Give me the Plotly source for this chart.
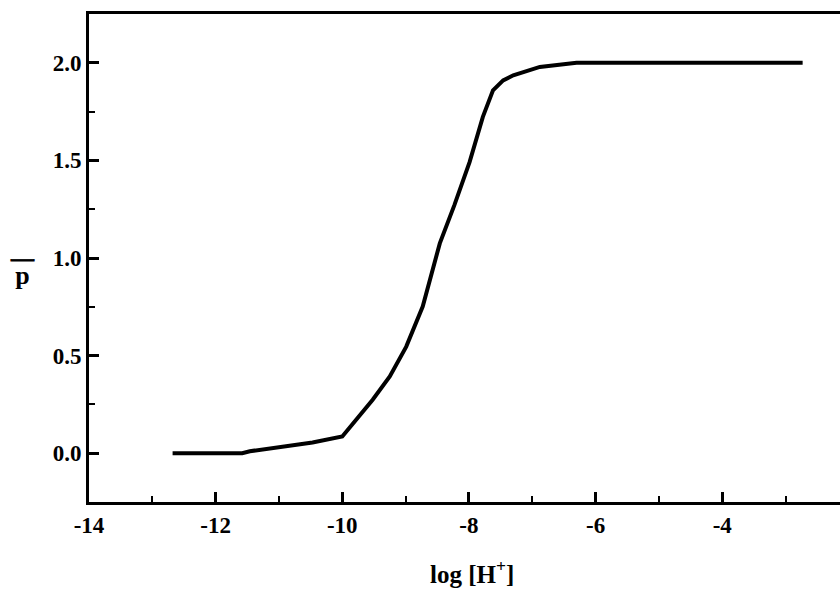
import plotly.graph_objects as go

# curve
log_h = [-12.68, -11.58, -11.46, -10.96, -10.47, -10.0, -9.78, -9.52, -9.25, -8.99,
         -8.73, -8.46, -8.23, -7.99, -7.78, -7.62, -7.46, -7.30, -6.88, -6.46,
         -6.30, -2.73]
p_bar = [0.0, 0.0, 0.01, 0.035, 0.055, 0.086, 0.171, 0.274, 0.393, 0.546,
         0.751, 1.075, 1.271, 1.491, 1.723, 1.859, 1.910, 1.936, 1.979, 1.996,
         2.0, 2.0]

x_tickvals = [-14, -12, -10, -8, -6, -4]
x_ticktext = ["-14", "-12", "-10", "-8", "-6", "-4"]
y_tickvals = [0.0, 0.5, 1.0, 1.5, 2.0]
y_ticktext = ["0.0", "0.5", "1.0", "1.5", "2.0"]

FONT = "Liberation Serif"

fig = go.Figure()
fig.add_trace(go.Scatter(x=log_h, y=p_bar, mode="lines",
                         line=dict(color="black", width=4),
                         showlegend=False, hoverinfo="skip"))

axis_common = dict(showline=True, linecolor="black", linewidth=3,
                   ticks="inside", ticklen=10, tickwidth=3, tickcolor="black",
                   showgrid=False, zeroline=False,
                   tickfont=dict(family=FONT, size=23, color="black", weight="bold"))

fig.update_xaxes(range=[-14, -2.14], tickvals=x_tickvals, ticktext=x_ticktext,
                 mirror=True,
                 minor=dict(ticks="inside", dtick=1, tick0=-14, ticklen=6, tickwidth=2, tickcolor="black"),
                 **axis_common)
fig.update_yaxes(range=[-0.25, 2.25], tickvals=y_tickvals, ticktext=y_ticktext,
                 mirror=False,
                 minor=dict(ticks="inside", dtick=0.25, tick0=0, ticklen=6, tickwidth=2, tickcolor="black"),
                 **axis_common)

fig.add_annotation(text="<b>log [H<sup>+</sup>]</b>", xref="x", yref="paper",
                   x=-7.95, y=-0.143, xanchor="center", yanchor="middle",
                   showarrow=False, font=dict(family=FONT, size=25, color="black"))
# p with a bar above it (single text: bar line, then p)
fig.add_annotation(text="<b><span style=\"font-size:23px;stroke:black;stroke-width:0.8px\">\u2014</span><br>"
                        "<span style=\"font-size:26px\">p</span></b>",
                   xref="paper", yref="paper",
                   x=-0.0879, y=0.430, xanchor="center", yanchor="bottom",
                   showarrow=False, font=dict(family=FONT, size=14, color="black"))

fig.update_layout(width=840, height=591,
                  margin=dict(l=89, r=0, t=14, b=89),
                  plot_bgcolor="white", paper_bgcolor="white")

fig.write_html("out.html")
